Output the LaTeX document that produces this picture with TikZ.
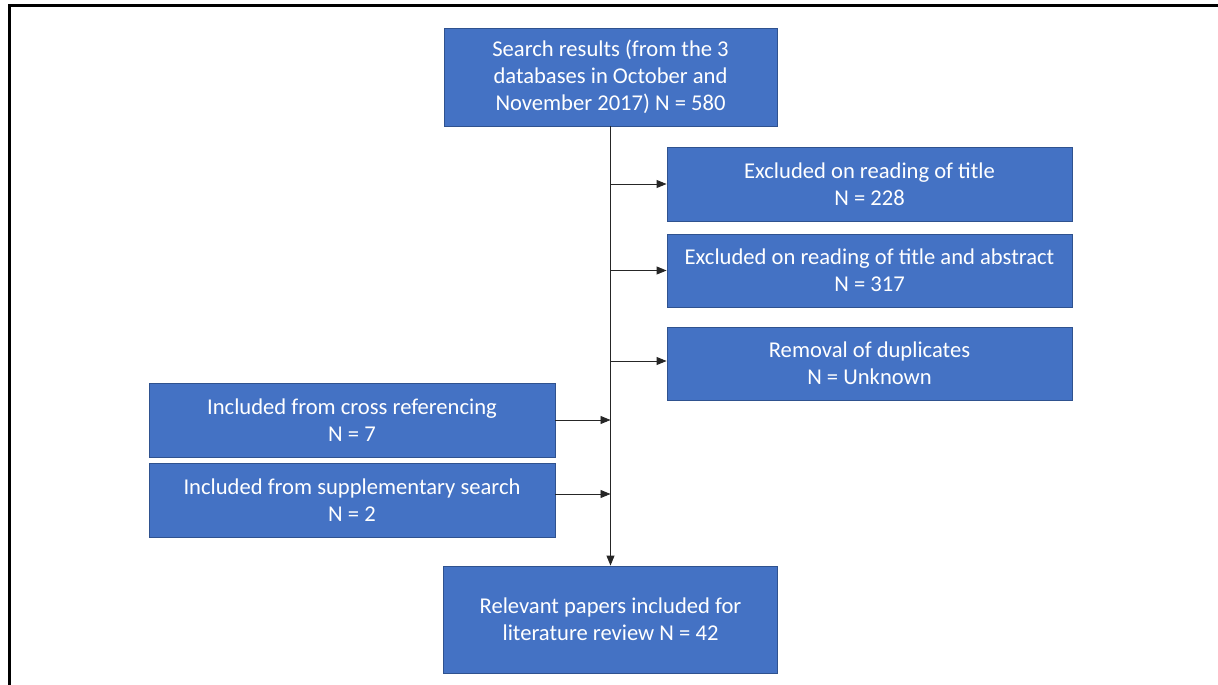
\documentclass[tikz,border=0pt]{standalone}
\usepackage{fontspec}
\setmainfont{Carlito}
\usetikzlibrary{arrows.meta,calc}
\definecolor{boxblue}{HTML}{4472C4}
\definecolor{boxedge}{HTML}{2F528F}
\tikzset{
  flowbox/.style={draw=boxedge, line width=0.9pt, fill=boxblue, text=white, align=center, inner sep=0pt,
    font=\fontsize{22.6}{27}\selectfont},
  arr/.style={draw=black!85, line width=0.9pt, -{Triangle[length=10pt,width=8pt]}},
  frameline/.style={draw=black, line width=2.2pt}
}
\begin{document}
\begin{tikzpicture}[x=1pt,y=-1pt]
\useasboundingbox (0,0) rectangle (1218,685);
\coordinate (fa) at (9.5,685);
\coordinate (fb) at (9.5,5.5);
\coordinate (fc) at (1218,5.5);
\draw[frameline] (fa) -- (fb) -- (fc);

\node[flowbox, minimum width=333pt, minimum height=98pt] (top) at (610.5,77) {Search results (from the 3\\databases in October and\\November 2017) N = 580};
\node[flowbox, minimum width=405pt, minimum height=74pt] (title) at (869.5,184) {Excluded on reading of title\\N = 228};
\node[flowbox, minimum width=405pt, minimum height=73pt] (abstr) at (869.5,270.5) {Excluded on reading of title and abstract\\N = 317};
\node[flowbox, minimum width=405pt, minimum height=73pt] (dup) at (869.5,363.5) {Removal of duplicates\\N = Unknown};
\node[flowbox, minimum width=406pt, minimum height=74pt] (cross) at (352,420) {Included from cross referencing\\N = 7};
\node[flowbox, minimum width=406pt, minimum height=74pt] (supp) at (352,500) {Included from supplementary search\\N = 2};
\node[flowbox, minimum width=334pt, minimum height=107pt] (rel) at (610.5,619.5) {Relevant papers included for\\literature review N = 42};

\draw[arr] (top.south) -- (rel.north);
\draw[arr] (title.west -| top.south) -- (title.west);
\draw[arr] (abstr.west -| top.south) -- (abstr.west);
\coordinate (dupin) at ([yshift=2.5pt]dup.west);
\draw[arr] (dupin -| top.south) -- (dupin);
\draw[arr] (cross.east) -- (cross.east -| top.south);
\coordinate (suppout) at ([yshift=6pt]supp.east);
\draw[arr] (suppout) -- (suppout -| top.south);
\end{tikzpicture}
\end{document}
